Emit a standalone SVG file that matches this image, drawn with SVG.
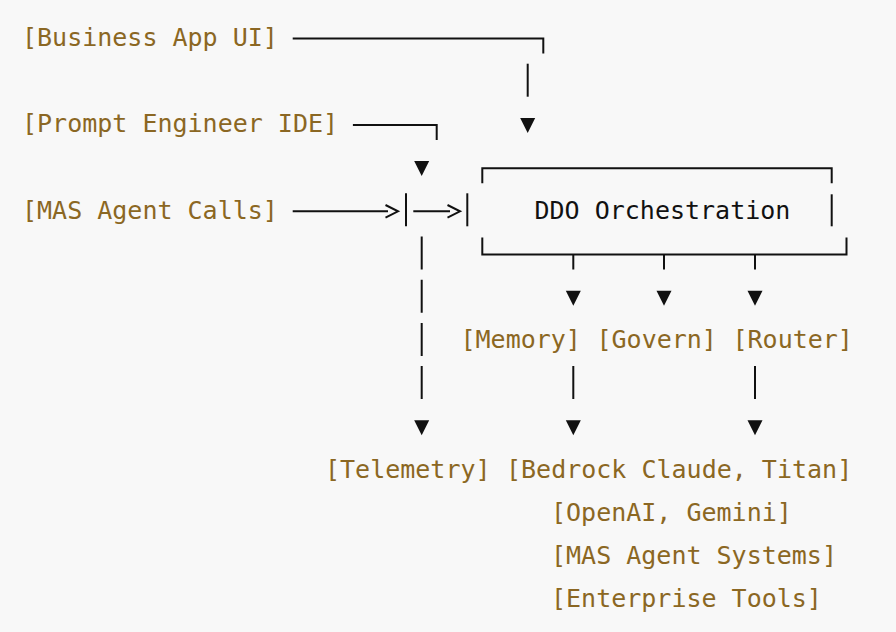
<svg xmlns="http://www.w3.org/2000/svg" xmlns:xlink="http://www.w3.org/1999/xlink" width="896" height="632" viewBox="0 0 896 632">
  <style>
    .lbl { font-family: "DejaVu Sans Mono", "Liberation Mono", monospace; font-size: 25px; fill: #8b6723; white-space: pre; }
    .core { font-family: "DejaVu Sans Mono", "Liberation Mono", monospace; font-size: 25px; fill: #111111; white-space: pre; }
    .ln { fill: none; stroke: #111111; stroke-width: 2; stroke-linecap: butt; stroke-linejoin: miter; }
    .tri { fill: #111111; }
  </style>
  <defs>
    <path id="dn" d="M-7.5,-7 L7.5,-7 L0,8 Z"/>
  </defs>
  <rect x="0" y="0" width="896" height="632" fill="#f8f8f8"/>

  <g id="connectors">
    <!-- Business App UI -> DDO -->
    <path class="ln" d="M292.7,38.5 H543.3 V53.5"/>
    <path class="ln" d="M527.7,63.7 V96.7"/>
    <use xlink:href="#dn" class="tri" x="527.7" y="124.9"/>
    <!-- Prompt Engineer IDE -> merge -->
    <path class="ln" d="M352.9,124.9 H436.7 V139.9"/>
    <use xlink:href="#dn" class="tri" x="421.7" y="168.1"/>
    <!-- MAS Agent Calls -> merge -> DDO -->
    <path class="ln" d="M292.7,211.3 H388"/>
    <polyline class="ln" points="385.5,205 398,211.3 385.5,217.6"/>
    <path class="ln" d="M406,193.3 V226.3"/>
    <path class="ln" d="M413.3,211.3 H450"/>
    <polyline class="ln" points="447.5,205 460,211.3 447.5,217.6"/>
    <!-- merge -> Telemetry -->
    <path class="ln" d="M421.7,236.5 V269.5 M421.7,279.7 V312.7 M421.7,322.9 V355.9 M421.7,366.1 V399.1"/>
    <use xlink:href="#dn" class="tri" x="421.7" y="427.3"/>
    <!-- DDO -> Memory / Govern / Router -->
    <path class="ln" d="M573.3,254.5 V269.5 M664,254.5 V269.5 M755,254.5 V269.5"/>
    <use xlink:href="#dn" class="tri" x="573.3" y="297.7"/>
    <use xlink:href="#dn" class="tri" x="664" y="297.7"/>
    <use xlink:href="#dn" class="tri" x="755" y="297.7"/>
    <!-- Memory -> Bedrock, Router -> Bedrock -->
    <path class="ln" d="M573.3,366.1 V399.1 M755,366.1 V399.1"/>
    <use xlink:href="#dn" class="tri" x="573.3" y="427.3"/>
    <use xlink:href="#dn" class="tri" x="755" y="427.3"/>
  </g>

  <g id="node-business-app-ui"><text class="lbl" x="22" y="45.8">[Business App UI]</text></g>
  <g id="node-prompt-engineer-ide"><text class="lbl" x="22" y="132.2">[Prompt Engineer IDE]</text></g>
  <g id="node-mas-agent-calls"><text class="lbl" x="22" y="218.6">[MAS Agent Calls]</text></g>

  <g id="node-ddo-orchestration">
    <path class="ln" d="M482.3,183.3 V168.3 H831.7 V183.3"/>
    <path class="ln" d="M467.3,193.3 V226.3"/>
    <path class="ln" d="M831.7,194.3 V226.3"/>
    <path class="ln" d="M482.3,237.5 V254.5 H846.5 V237.5"/>
    <text class="core" x="534.5" y="218.6">DDO Orchestration</text>
  </g>

  <g id="node-memory"><text class="lbl" x="460.5" y="348.2">[Memory]</text></g>
  <g id="node-govern"><text class="lbl" x="596.5" y="348.2">[Govern]</text></g>
  <g id="node-router"><text class="lbl" x="732.5" y="348.2">[Router]</text></g>

  <g id="node-telemetry"><text class="lbl" x="325" y="477.8">[Telemetry]</text></g>
  <g id="node-providers">
    <text class="lbl" x="506" y="477.8">[Bedrock Claude, Titan]</text>
    <text class="lbl" x="551" y="521">[OpenAI, Gemini]</text>
    <text class="lbl" x="551" y="564.2">[MAS Agent Systems]</text>
    <text class="lbl" x="551" y="607.4">[Enterprise Tools]</text>
  </g>
</svg>
